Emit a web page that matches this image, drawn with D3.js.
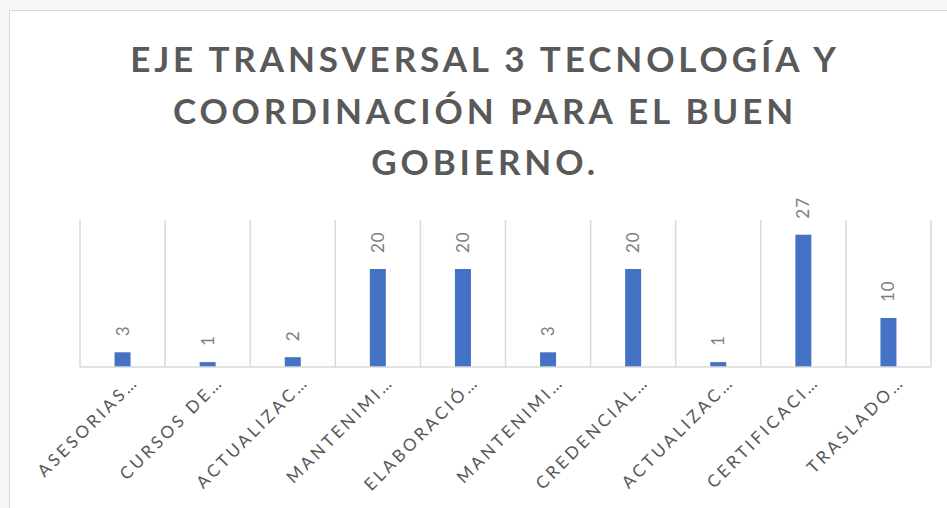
<!DOCTYPE html>
<html>
<head>
<meta charset="utf-8">
<script src="https://cdn.jsdelivr.net/npm/d3@7"></script>
<style>
    body { margin: 0; background: #f7f7f7; }
    svg { display: block; font-family: Lato, "Open Sans", sans-serif; }
</style>
</head>
<body>
<div id="chart"></div>
<script>
// data
const categories = ['ASESORIAS…', 'CURSOS DE…', 'ACTUALIZAC…', 'MANTENIMI…', 'ELABORACIÓ…',
    'MANTENIMI…', 'CREDENCIAL…', 'ACTUALIZAC…', 'CERTIFICACI…', 'TRASLADO…'];
const values = [3, 1, 2, 20, 20, 3, 20, 1, 27, 10];
const titleLines = ['EJE TRANSVERSAL 3 TECNOLOGÍA Y', 'COORDINACIÓN PARA EL BUEN', 'GOBIERNO.'];
const yDomain = [0, 30];

const width = 947, height = 508;
const margin = {top: 220, right: 16, bottom: 141, left: 80};

const svg = d3.select('#chart')
    .append('svg')
    .attr('width', width)
    .attr('height', height);

// chart area frame
svg.append('rect')
    .attr('x', 9.5).attr('y', 10.5)
    .attr('width', width).attr('height', height)
    .attr('fill', '#fff')
    .attr('stroke', '#d9d9d9');

// title
svg.append('g')
    .selectAll('text')
    .data(titleLines)
    .enter()
    .append('text')
    .attr('x', 485)
    .attr('y', (d, i) => 72 + i * 51.5)
    .attr('text-anchor', 'middle')
    .attr('fill', '#595959')
    .attr('font-size', 35)
    .attr('font-weight', 700)
    .attr('letter-spacing', 3.9)
    .text(d => d);

const x = d3.scaleBand()
    .domain(d3.range(categories.length))
    .range([margin.left, width - margin.right])
    .paddingInner(0.812)
    .paddingOuter(0.406);

const y = d3.scaleLinear()
    .domain(yDomain)
    .range([height - margin.bottom, margin.top]);

const half = (x.step() - x.bandwidth()) / 2;

// vertical separators between categories
svg.append('g')
    .selectAll('line')
    .data(d3.range(categories.length + 1))
    .enter()
    .append('line')
    .attr('x1', i => i < categories.length ? x(i) - half : x(i - 1) + x.bandwidth() + half)
    .attr('x2', i => i < categories.length ? x(i) - half : x(i - 1) + x.bandwidth() + half)
    .attr('y1', y(yDomain[1]))
    .attr('y2', y(0))
    .attr('stroke', '#d9d9d9')
    .attr('stroke-width', 1.5);

// bars
svg.append('g')
    .selectAll('rect')
    .data(values)
    .enter()
    .append('rect')
    .attr('x', (d, i) => x(i))
    .attr('y', d => y(d))
    .attr('width', x.bandwidth())
    .attr('height', d => y(0) - y(d))
    .attr('fill', '#4472c4');

// baseline + category labels
const xAxis = svg.append('g')
    .attr('transform', `translate(0,${y(0)})`)
    .call(d3.axisBottom(x).tickSize(0).tickFormat(i => categories[i]));
xAxis.select('.domain')
    .attr('d', `M${x.range()[0]},0H${x.range()[1]}`)
    .attr('stroke', '#d9d9d9')
    .attr('stroke-width', 1.5);
xAxis.selectAll('text')
    .attr('font-family', 'Lato, "Open Sans", sans-serif')
    .attr('font-size', 17)
    .attr('letter-spacing', 3.2)
    .attr('fill', '#595959')
    .attr('text-anchor', 'end')
    .attr('dy', 0)
    .attr('y', 0)
    .attr('transform', 'translate(17,16) rotate(-45)');

// value labels
svg.append('g')
    .selectAll('text')
    .data(values)
    .enter()
    .append('text')
    .attr('transform', (d, i) => `translate(${x(i) + x.bandwidth() / 2},${y(d) - 16}) rotate(-90)`)
    .attr('dy', '0.35em')
    .attr('fill', '#7f7f7f')
    .attr('font-size', 17)
    .attr('letter-spacing', 1)
    .text(d => d);
</script>
</body>
</html>
